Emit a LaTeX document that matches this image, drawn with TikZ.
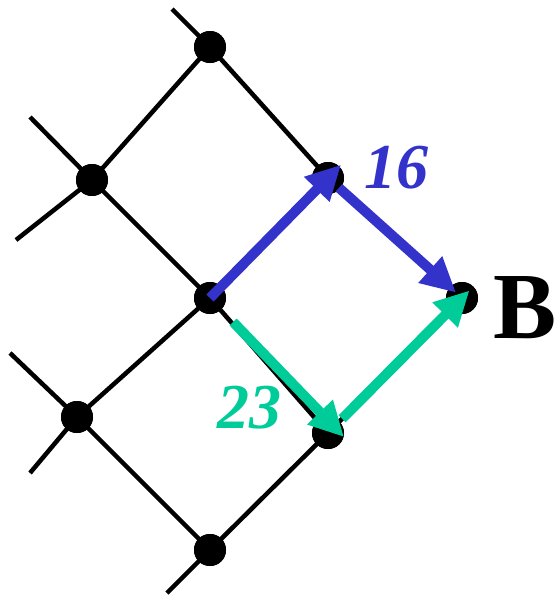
\documentclass[tikz,border=0pt]{standalone}
\usepackage{fontspec}
\setmainfont{Liberation Serif}
\usetikzlibrary{positioning,calc,arrows.meta}
\definecolor{pathBlueLine}{HTML}{3333CC}
\definecolor{pathGreenLine}{HTML}{00CC99}

\begin{document}
\begin{tikzpicture}[x=0.75pt, y=-0.75pt,
  dot/.style={circle, fill=black, inner sep=0pt, minimum size=24pt},
  lattice/.style={black, line width=3.4pt},
  route/.style={line width=7.5pt, -{Triangle[length=26pt, width=25pt]}},
  weight/.style={font=\fontsize{48}{50}\selectfont\bfseries\itshape}]

%% --- BOUNDING BOX (555 x 597 px) ---
\useasboundingbox (0,0) rectangle (555,597);

% --- LATTICE POINTS ---
\node[dot] (nTop)    at (210,47)  {};
\node[dot] (nLeftA)  at (92,180)  {};
\node[dot] (nRightA) at (328,178) {};
\node[dot] (nMid)    at (210,298) {};
\node[dot] (nB)      at (462,298) {};
\node[dot] (nLeftB)  at (77,417)  {};
\node[dot] (nRightB) at (328,433) {};
\node[dot] (nBot)    at (210,550) {};

% --- FREE ENDS OF THE GRID ---
\coordinate (sTop)     at (172,9);
\coordinate (sLeftAup) at (30,117);
\coordinate (sLeftAdn) at (16,240);
\coordinate (sLeftBup) at (10,353);
\coordinate (sLeftBdn) at (30,473);
\coordinate (sBot)     at (167,593);

% --- GRID LINES ---
\draw[lattice] (sTop) -- (nTop.center) -- (nRightA.center) -- (nB.center);
\draw[lattice] (sLeftAup) -- (nLeftA.center) -- (nMid.center) -- (nRightB.center);
\draw[lattice] (sLeftAdn) -- (nLeftA.center) -- (nTop.center);
\draw[lattice] (sLeftBup) -- (nLeftB.center) -- (nBot.center);
\draw[lattice] (sLeftBdn) -- (nLeftB.center) -- (nMid.center) -- (nRightA.center);
\draw[lattice] (sBot) -- (nBot.center) -- (nRightB.center) -- (nB.center);

% --- REDRAW DOTS ON TOP OF LINES ---
\foreach \n in {nTop, nLeftA, nRightA, nMid, nB, nLeftB, nRightB, nBot}
  \fill (\n) circle (12pt);

% --- BLUE PATH (16) ---
\draw[route, pathBlueLine, shorten >=-14pt] (nMid.center) -- (nRightA.center);
\draw[route, pathBlueLine, shorten <=11pt, shorten >=6pt] (nRightA.center) -- (nB.center);

% --- GREEN PATH (23) ---
\coordinate (cGreenTip) at ($(nRightB)+(16,4)$);
\draw[route, pathGreenLine, shorten <=25pt] (nMid.center) -- (cGreenTip);
\draw[route, pathGreenLine, shorten <=15pt, shorten >=-8pt] (nRightB.center) -- (nB.center);

% --- LABELS ---
\node[weight, text=pathBlueLine]  (lBlue)  at (396,168) {16};
\node[weight, text=pathGreenLine] (lGreen) at (249,408) {23};
\node[font=\fontsize{71}{74}\selectfont\bfseries] (lB) at (525,308) {B};

\end{tikzpicture}
\end{document}
